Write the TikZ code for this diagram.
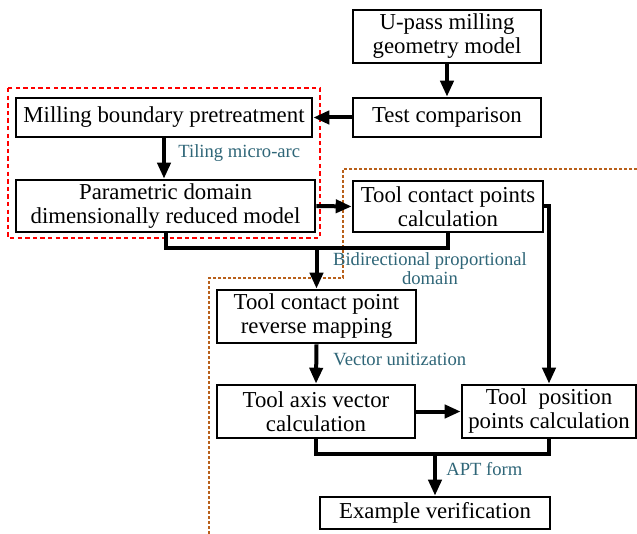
\documentclass[tikz,border=0pt]{standalone}
\usepackage{fontspec}
\setmainfont{Liberation Serif}
\usetikzlibrary{arrows.meta}
\definecolor{lbl}{RGB}{47,102,120}
\definecolor{brn}{RGB}{184,96,26}
\tikzset{
  box/.style={draw=black, line width=1.3pt, fill=white, inner sep=0pt, align=center, font=\fontsize{11.4}{12}\selectfont},
  conn/.style={line width=2pt, draw=black},
  arr/.style={conn, -{Triangle[length=8pt,width=6.5pt]}},
  lab/.style={text=lbl, font=\fontsize{9.3}{9.6}\selectfont, inner sep=0pt, align=center}
}
\begin{document}
\begin{tikzpicture}[x=0.5pt,y=-0.5pt]
\useasboundingbox[fill=white] (0,0) rectangle (637,534);
% dashed frames
\draw[red, line width=1pt, dash pattern=on 2.2pt off 1.6pt] (8,88) rectangle (320,238);
\draw[brn, line width=1pt, dash pattern=on 1.5pt off 1pt] (637,169) -- (343,169) -- (343,278) -- (209,278) -- (209,534);
% nodes
\node[box, minimum width=94pt, minimum height=26.5pt] (up) at (447,36.5) {U-pass milling\\geometry model};
\node[box, minimum width=94pt, minimum height=19.5pt] (test) at (447,117.5) {Test comparison};
\node[box, minimum width=148pt, minimum height=19.5pt] (mill) at (164,117.5) {Milling boundary pretreatment};
\node[box, minimum width=149.5pt, minimum height=26pt] (param) at (165.5,206) {Parametric domain\\dimensionally reduced model};
\node[box, minimum width=95pt, minimum height=25.5pt] (tcp) at (448,206.5) {Tool contact points\\calculation};
\node[box, minimum width=99.5pt, minimum height=26.5pt] (rev) at (316.5,316.5) {Tool contact point\\reverse mapping};
\node[box, minimum width=99pt, minimum height=26.5pt] (tav) at (316,411.5) {Tool axis vector\\calculation};
\node[box, minimum width=87pt, minimum height=26.5pt] (tpp) at (549,411.5) {Tool\ \ position\\points calculation};
\node[box, minimum width=115pt, minimum height=16pt] (ex) at (435,513) {Example verification};
% labels
\node[lab, anchor=west] (l1) at (178,153) {Tiling micro-arc};
\node[lab] (l2) at (430,269) {Bidirectional proportional\\domain};
\node[lab, anchor=west] (l3) at (333,359) {Vector unitization};
\node[lab, anchor=west] (l4) at (446,469) {APT form};
% connectors
\draw[arr] (up.south) -- (test.north);
\draw[arr] (test.west) -- (mill.east);
\draw[arr] (mill.south) -- (mill.south |- param.north);
\draw[arr] (param.east) -- (tcp.west);
\draw[conn] (param.south) -- ++(0,15) coordinate (j1) -| (tcp.south);
\draw[arr] (rev.north |- j1) -- (rev.north);
\draw[arr] (tcp.east) -| (tpp.north);
\draw[arr] (rev.south) -- (tav.north);
\draw[arr] (tav.east) -- (tpp.west);
\draw[conn] (tav.south) -- ++(0,15) coordinate (j2) -| (tpp.south);
\draw[arr] (ex.north |- j2) -- (ex.north);
\end{tikzpicture}
\end{document}
